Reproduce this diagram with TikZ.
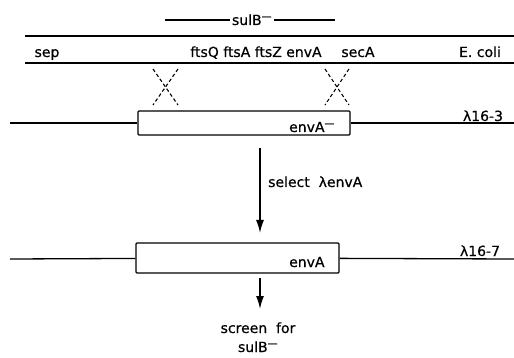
\documentclass[tikz,border=0pt]{standalone}
\usepackage{fontspec}
\setmainfont{DejaVu Sans}[FakeBold=0.6]
\usepackage{tikz}
\usetikzlibrary{arrows.meta,positioning}

\begin{document}
\begin{tikzpicture}[x=1pt,y=-1pt,
  lbl/.style={font=\fontsize{14}{16}\selectfont,inner sep=0pt,anchor=base},
  dna/.style={line width=1.3pt},
  chrom/.style={line width=1.6pt},
  insert/.style={draw,line width=1.4pt,rounded corners=1pt,inner sep=0pt},
  cross/.style={line width=1.1pt,dash pattern=on 3.5pt off 2.5pt},
  arr/.style={-{Latex[length=13pt,width=8pt]},line width=1.5pt}]
\useasboundingbox (0,0) rectangle (514,358);
% sulB region above the chromosome
\node[lbl,inner xsep=1.5pt] (sulb) at (252,25) {sulB\textsuperscript{\textemdash}};
\coordinate (sl) at (165,20);
\coordinate (sr) at (335,20);
\draw[dna] (sl) -- (sl -| sulb.west);
\draw[dna] (sr -| sulb.east) -- (sr);
% E. coli chromosome
\coordinate (ctl) at (25,36);
\coordinate (ctr) at (514,36);
\coordinate (cbl) at (25,63);
\coordinate (cbr) at (514,63);
\draw[chrom] (ctl) -- (ctr);
\draw[chrom] (cbl) -- (cbr);
\node[lbl] (sep) at (47,57) {sep};
\node[lbl] (fts) at (256,57) {ftsQ ftsA ftsZ envA};
\node[lbl] (seca) at (358,57) {secA};
\node[lbl] (ecoli) at (480,57) {E. coli};
% lambda 16-3
\node[insert,minimum width=212pt,minimum height=24pt] (ins3) at (244,123) {};
\coordinate (l3) at (10,123);
\coordinate (r3) at (514,123);
\draw[dna] (l3) -- (ins3);
\draw[dna] (ins3) -- (r3);
\node[lbl,anchor=base west] (env3) at (289,132) {envA\textsuperscript{\textemdash}};
\node[lbl] (lam3) at (483,121) {λ16-3};
% crossovers
\coordinate (xa1) at (153,69);
\coordinate (xa2) at (178,69);
\coordinate (xa3) at (153,105);
\coordinate (xa4) at (178,105);
\coordinate (xb1) at (325,69);
\coordinate (xb2) at (349,69);
\coordinate (xb3) at (325,105);
\coordinate (xb4) at (349,105);
\draw[cross] (xa1) -- (xa4);
\draw[cross] (xa2) -- (xa3);
\draw[cross] (xb1) -- (xb4);
\draw[cross] (xb2) -- (xb3);
% selection
\coordinate (s1) at (260,148);
\coordinate (s2) at (260,233);
\draw[arr] (s1) -- (s2);
\node[lbl,anchor=base west] (sel) at (268,187) {select \ λenvA};
% lambda 16-7
\node[insert,minimum width=203pt,minimum height=30pt] (ins7) at (237.5,258) {};
\coordinate (l7) at (10,259);
\coordinate (r7) at (514,259);
\draw[dna] (l7) -- (ins7);
\draw[dna] (ins7) -- (r7);
\node[lbl,anchor=base west] (env7) at (289,267) {envA};
\node[lbl] (lam7) at (480,256) {λ16-7};
% screen
\coordinate (t1) at (260,278);
\coordinate (t2) at (260,309);
\draw[arr] (t1) -- (t2);
\node[lbl] (scr) at (258,333) {screen \ for};
\node[lbl] (sulb2) at (258,352) {sulB\textsuperscript{\textemdash}};
\end{tikzpicture}
\end{document}
